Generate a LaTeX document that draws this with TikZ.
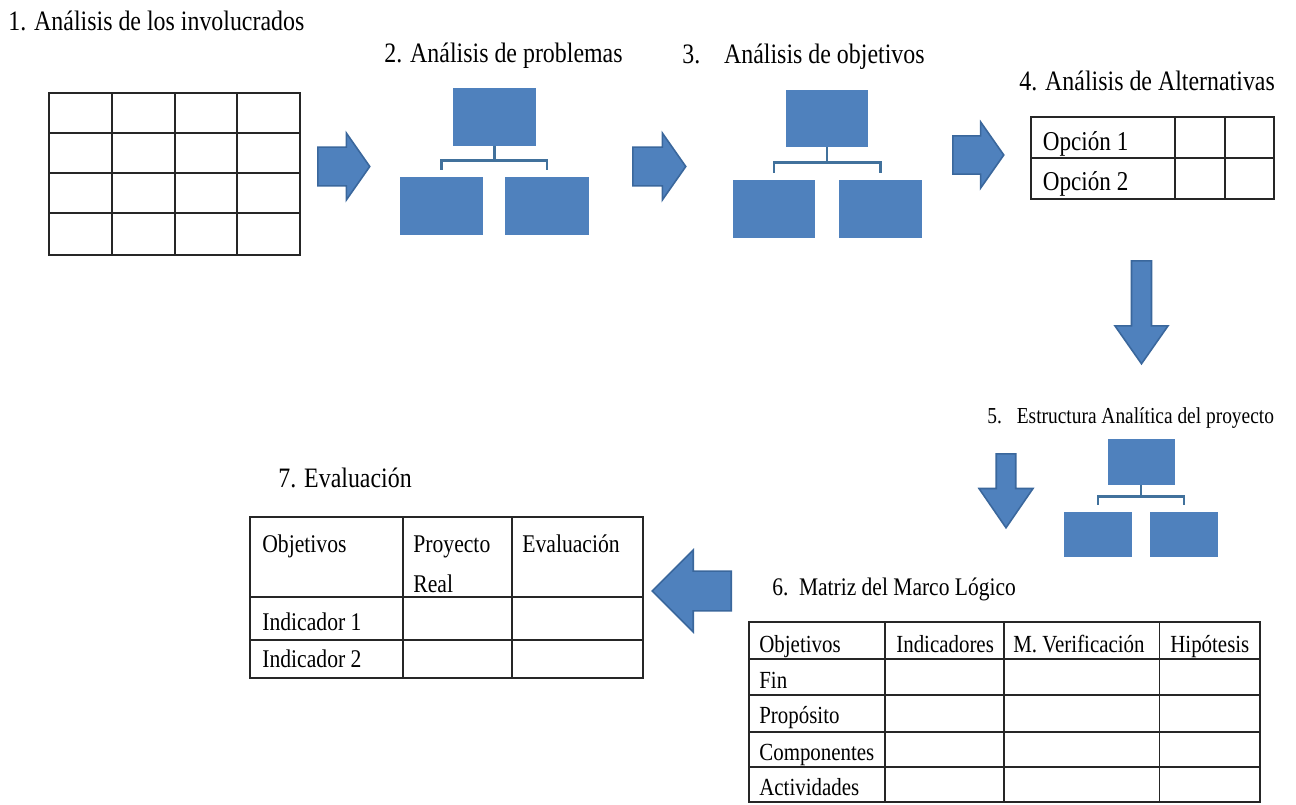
\documentclass[tikz,border=0pt]{standalone}
\usepackage{fontspec}
\setmainfont{Liberation Serif}[FakeStretch=0.85]
\usetikzlibrary{shapes.arrows,positioning,calc}
\definecolor{officeblue}{HTML}{4F81BD}
\definecolor{arrowedge}{HTML}{3A679C}
\definecolor{treeblue}{HTML}{41719C}

\begin{document}
\begin{tikzpicture}[
  x=0.02cm, y=-0.02cm,
  ttl/.style={anchor=base west, inner sep=0pt},
  txt/.style={anchor=base west, inner sep=0pt},
  gridline/.style={draw=black!85, line width=1.1pt},
  blk/.style={rectangle, fill=officeblue, inner sep=0pt,
              minimum width=1.66cm, minimum height=1.16cm},
  sblk/.style={blk, minimum width=1.34cm, minimum height=0.91cm},
  tree/.style={draw=treeblue, line width=1.5pt},
  barr/.style={single arrow, fill=officeblue, draw=arrowedge, line width=0.9pt,
               inner xsep=0pt, single arrow head indent=0pt, anchor=tail}
]
\useasboundingbox (0,0) rectangle (1296,805);

% titles
\node[ttl, font=\fontsize{16}{19}\selectfont] (ttl1) at (8,30) {1. Análisis de los involucrados};
\node[ttl, font=\fontsize{16}{19}\selectfont] (ttl2) at (384,62) {2. Análisis de problemas};
\node[ttl, font=\fontsize{16}{19}\selectfont] (ttl3) at (682,63) {3.\hspace{13.6pt}Análisis de objetivos};
\node[ttl, font=\fontsize{16}{19}\selectfont] (ttl4) at (1019,90) {4. Análisis de Alternativas};
\node[ttl, font=\fontsize{13}{15}\selectfont] (ttl5) at (987,423) {5.\hspace{8.5pt}Estructura Analítica del proyecto};
\node[ttl, font=\fontsize{14.4}{17}\selectfont] (ttl6) at (772,595) {6.\hspace{6pt}Matriz del Marco Lógico};
\node[ttl, font=\fontsize{16}{19}\selectfont] (ttl7) at (278,487) {7. Evaluación};

% 1. tabla de involucrados
\draw[gridline, line width=1.3pt] (49,93) rectangle (300,255);
\foreach \x in {112,175,237} \draw[gridline, line width=1.3pt] (\x,93) -- (\x,255);
\foreach \y in {133,173,213} \draw[gridline, line width=1.3pt] (49,\y) -- (300,\y);

% flechas
\node[barr, minimum height=1.04cm, minimum width=1.34cm, inner ysep=0.33cm,
      single arrow tip angle=110] (arr1) at (317,166.5) {};
\node[barr, minimum height=1.06cm, minimum width=1.34cm, inner ysep=0.33cm,
      single arrow tip angle=110] (arr2) at (632,166.5) {};
\node[barr, minimum height=1.02cm, minimum width=1.32cm, inner ysep=0.33cm,
      single arrow tip angle=110] (arr3) at (952,155) {};
\node[barr, rotate=-90, minimum height=2.06cm, minimum width=1.06cm, inner ysep=0.135cm,
      single arrow tip angle=70] (arr4) at (1141.5,260) {};
\node[barr, rotate=-90, minimum height=1.48cm, minimum width=1.08cm, inner ysep=0.125cm,
      single arrow tip angle=69] (arr5) at (1006,453) {};
\node[barr, rotate=180, minimum height=1.58cm, minimum width=1.64cm, inner ysep=0.22cm,
      single arrow tip angle=90] (arr6) at (732,591) {};

% 2. arbol de problemas
\node[blk] (top2) at (494.5,117) {};
\node[blk] (lft2) at (441.5,206) {};
\node[blk, minimum width=1.68cm] (rgt2) at (547,206) {};
\draw[tree] (top2.south) -- ++(0,16);
\draw[tree] ($(lft2.north)+(0,-7)$) -- ++(0,-9) -| ($(rgt2.north)+(0,-7)$);

% 3. arbol de objetivos
\node[blk, minimum width=1.64cm, minimum height=1.14cm] (top3) at (827,118.5) {};
\node[blk] (lft3) at (774,209) {};
\node[blk, minimum width=1.68cm] (rgt3) at (880.5,209) {};
\draw[tree] (top3.south) -- ++(0,16);
\draw[tree] ($(lft3.north)+(0,-7)$) -- ++(0,-10) -| ($(rgt3.north)+(0,-7)$);

% 4. alternativas
\draw[gridline] (1031,117) rectangle (1274,199);
\foreach \x in {1175,1225} \draw[gridline] (\x,117) -- (\x,199);
\draw[gridline] (1031,158) -- (1274,158);
\node[txt, font=\fontsize{15.5}{18}\selectfont] (op1) at (1042.5,150) {Opción 1};
\node[txt, font=\fontsize{15.5}{18}\selectfont] (op2) at (1042.5,190) {Opción 2};

% 5. estructura analitica
\node[sblk] (top5) at (1141,462) {};
\node[sblk, minimum width=1.36cm, minimum height=0.9cm] (lft5) at (1098,534.5) {};
\node[sblk, minimum width=1.36cm, minimum height=0.9cm] (rgt5) at (1184,534.5) {};
\draw[tree] (top5.south) -- ++(0,12);
\draw[tree] ($(lft5.north)+(0,-7)$) -- ++(0,-8) -| ($(rgt5.north)+(0,-7)$);

% 6. matriz del marco logico
\draw[gridline] (749,622) rectangle (1260,802);
\foreach \x in {885,1004,1159.5} \draw[gridline] (\x,622) -- (\x,802);
\foreach \y in {659,695,732,767} \draw[gridline] (749,\y) -- (1260,\y);
\begin{scope}[every node/.style={txt, font=\fontsize{14}{16}\selectfont}]
  \node (mobj) at (759,652)  {Objetivos};
  \node (mind) at (896,652)  {Indicadores};
  \node (mver) at (1013,652) {M. Verificación};
  \node (mhip) at (1170,652) {Hipótesis};
  \node (mfin) at (759,688)  {Fin};
  \node (mpro) at (759,723)  {Propósito};
  \node (mcom) at (759,760)  {Componentes};
  \node (mact) at (759,795)  {Actividades};
\end{scope}

% 7. evaluacion
\draw[gridline] (250,517) rectangle (643,678);
\foreach \x in {403,512} \draw[gridline] (\x,517) -- (\x,678);
\foreach \y in {597,640} \draw[gridline] (250,\y) -- (643,\y);
\begin{scope}[every node/.style={txt, font=\fontsize{14.5}{17}\selectfont}]
  \node (eobj) at (262,552) {Objetivos};
  \node (epro) at (413,552) {Proyecto};
  \node (erea) at (413,592) {Real};
  \node (eeva) at (522,552) {Evaluación};
  \node (ein1) at (262,630) {Indicador 1};
  \node (ein2) at (262,667) {Indicador 2};
\end{scope}
\end{tikzpicture}
\end{document}
